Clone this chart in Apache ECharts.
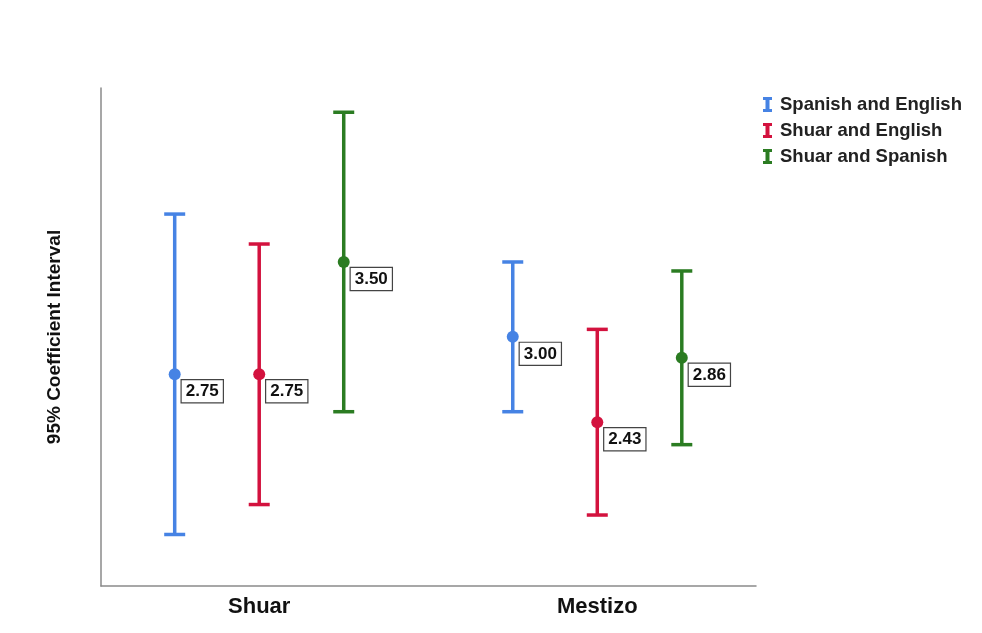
<!DOCTYPE html>
<html><head><meta charset="utf-8">
<script src="https://cdn.jsdelivr.net/npm/echarts@6/dist/echarts.min.js"></script>
<style>html,body{margin:0;padding:0;background:#fff}#c{width:982px;height:633px}</style>
</head><body><div id="c"></div>
<script>
// ---- Data ----
const categories = ['Shuar', 'Mestizo'];
const seriesNames = ['Spanish and English', 'Shuar and English', 'Shuar and Spanish'];
const spanishEnglishMean = [2.75, 3.00];
const spanishEnglishLow  = [1.68, 2.50];
const spanishEnglishHigh = [3.82, 3.50];
const shuarEnglishMean = [2.75, 2.43];
const shuarEnglishLow  = [1.88, 1.81];
const shuarEnglishHigh = [3.62, 3.05];
const shuarSpanishMean = [3.50, 2.86];
const shuarSpanishLow  = [2.50, 2.28];
const shuarSpanishHigh = [4.50, 3.44];

const colors = ['#4683e4', '#d3123e', '#2b7c22'];
const groupOffsets = [-0.25, 0, 0.25];
const FONT = "'Liberation Sans', Arial, Helvetica, sans-serif";

const groups = [
  {mean: spanishEnglishMean, low: spanishEnglishLow, high: spanishEnglishHigh},
  {mean: shuarEnglishMean, low: shuarEnglishLow, high: shuarEnglishHigh},
  {mean: shuarSpanishMean, low: shuarSpanishLow, high: shuarSpanishHigh}
];

function renderErrorBar(params, api) {
  const x = api.value(0), lo = api.value(1), hi = api.value(2);
  const pTop = api.coord([x, hi]);
  const pBot = api.coord([x, lo]);
  const half = 10.5;
  const style = {stroke: api.visual('color'), lineWidth: 3.5};
  return {
    type: 'group',
    children: [
      {type: 'line', shape: {x1: pTop[0], y1: pTop[1], x2: pBot[0], y2: pBot[1]}, style: style},
      {type: 'line', shape: {x1: pTop[0] - half, y1: pTop[1], x2: pTop[0] + half, y2: pTop[1]}, style: style},
      {type: 'line', shape: {x1: pBot[0] - half, y1: pBot[1], x2: pBot[0] + half, y2: pBot[1]}, style: style}
    ]
  };
}

const series = [];
groups.forEach(function (g, i) {
  series.push({
    name: seriesNames[i],
    type: 'custom',
    renderItem: renderErrorBar,
    itemStyle: {color: colors[i]},
    encode: {x: 0, y: [1, 2]},
    data: categories.map(function (c, k) { return [k + 1 + groupOffsets[i], g.low[k], g.high[k]]; }),
    z: 2
  });
});
groups.forEach(function (g, i) {
  series.push({
    name: seriesNames[i],
    type: 'scatter',
    symbol: 'circle',
    symbolSize: 12,
    itemStyle: {color: colors[i], opacity: 1},
    data: categories.map(function (c, k) { return [k + 1 + groupOffsets[i], g.mean[k]]; }),
    label: {
      show: true,
      position: [13, 12],
      align: 'left',
      verticalAlign: 'top',
      formatter: function (p) { return p.value[1].toFixed(2); },
      fontFamily: FONT,
      fontSize: 17,
      fontWeight: 'bold',
      color: '#111',
      backgroundColor: '#fff',
      borderColor: '#444',
      borderWidth: 1.2,
      padding: [3, 4, 2, 4]
    },
    z: 5
  });
});

const chart = echarts.init(document.getElementById('c'), null, {renderer: 'canvas'});
chart.setOption({
  animation: false,
  backgroundColor: '#fff',
  grid: {left: 101, top: 88, width: 655, height: 498, containLabel: false},
  legend: {
    orient: 'vertical',
    left: 758,
    top: 90,
    itemWidth: 9,
    itemHeight: 15,
    itemGap: 7,
    icon: 'path://M0,0 H9 V3 H6.5 V12 H9 V15 H0 V12 H2.5 V3 H0 Z',
    data: seriesNames,
    textStyle: {fontFamily: FONT, fontSize: 18.5, fontWeight: 'bold', color: '#222', padding: [0, 0, 0, 3], lineHeight: 18}
  },
  xAxis: {
    type: 'value',
    min: 0.532,
    max: 2.4695,
    splitLine: {show: false},
    axisTick: {show: false},
    axisLine: {show: true, lineStyle: {color: '#8a8a8a', width: 1.5}},
    axisLabel: {
      customValues: [1, 2],
      formatter: function (v) { return categories[Math.round(v) - 1] || ''; },
      fontFamily: FONT,
      fontSize: 22,
      fontWeight: 'bold',
      color: '#111',
      margin: 10
    }
  },
  yAxis: {
    type: 'value',
    min: 1.336,
    max: 4.662,
    name: '95% Coefficient Interval',
    nameLocation: 'middle',
    nameGap: 37,
    nameTextStyle: {fontFamily: FONT, fontSize: 19, fontWeight: 'bold', color: '#111'},
    splitLine: {show: false},
    axisTick: {show: false},
    axisLabel: {show: false},
    axisLine: {show: true, lineStyle: {color: '#8a8a8a', width: 1.5}}
  },
  series: series
});
</script>
</body></html>
